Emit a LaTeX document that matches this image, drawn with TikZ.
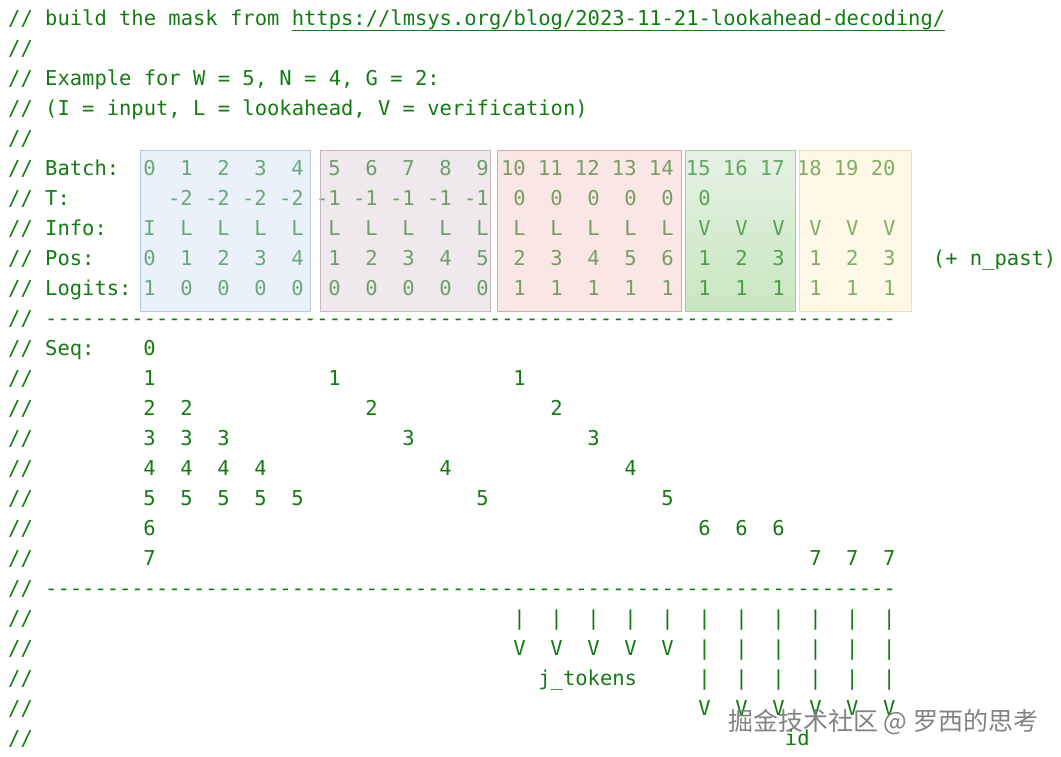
\documentclass[tikz,border=0pt]{standalone}
\usepackage{fontspec}
\setmonofont{DejaVu Sans Mono}[WordSpace={1,0,0},PunctuationSpace=WordSpace]
\newfontfamily\cjkfont{Noto Sans CJK SC}
\frenchspacing
\newcommand\codefont{\ttfamily\fontsize{20.48}{30}\selectfont}
\definecolor{codegreen}{RGB}{20,122,20}
\definecolor{boxblue}{RGB}{208,224,244}
\definecolor{blueline}{RGB}{184,200,222}
\definecolor{boxpurple}{RGB}{219,204,213}
\definecolor{purpleline}{RGB}{200,184,196}
\definecolor{boxred}{RGB}{246,199,199}
\definecolor{redline}{RGB}{214,170,172}
\definecolor{boxgreentop}{RGB}{200,226,195}
\definecolor{boxgreenbot}{RGB}{133,200,115}
\definecolor{greenline}{RGB}{168,200,164}
\definecolor{boxyellow}{RGB}{255,239,199}
\definecolor{yellowline}{RGB}{238,222,178}
\definecolor{markgray}{RGB}{130,130,130}

\begin{document}
\begin{tikzpicture}[x=1pt,y=-1pt,
  every node/.style={inner sep=0pt,text=codegreen,font=\codefont},
  lbl/.style={anchor=base west},
  tok/.style={anchor=base east},
  hl/.style={fill opacity=.45}]
\useasboundingbox (0,0) rectangle (1061,756);

\begin{scope}[shift={(8,25.5)},x=12.33pt,y=-30pt]
\node[lbl] (head) at (0,0) {// build the mask from};
\node[lbl] (url) at (23,0) {https://lmsys.org/blog/2023-11-21-lookahead-decoding/};
\draw[codegreen,line width=1.6pt] ([yshift=-5pt]url.base west) -- ([yshift=-5pt]url.base east);
\foreach \i in {1,4,12,13,...,18,20,21,...,24}
  \node[lbl] (cm\i) at (0,\i) {//};
\node[lbl] (ex) at (0,2) {// Example for W = 5, N = 4, G = 2:};
\node[lbl] (key) at (0,3) {// (I = input, L = lookahead, V = verification)};
\node[lbl] (batch) at (0,5) {// Batch:};
\node[lbl] (tee) at (0,6) {// T:};
\node[lbl] (info) at (0,7) {// Info:};
\node[lbl] (pos) at (0,8) {// Pos:};
\node[lbl] (logits) at (0,9) {// Logits:};
\node[lbl] (seq) at (0,11) {// Seq:};
\node[lbl] (rule1) at (0,10) {// ---------------------------------------------------------------------};
\node[lbl] (rule2) at (0,19) {// ---------------------------------------------------------------------};

\foreach \n in {0,...,20}
  \node[tok] (b\n) at ({12+3*\n},5) {\n};
\foreach \v [count=\n] in {-2,-2,-2,-2,-1,-1,-1,-1,-1,0,0,0,0,0,0}
  \node[tok] (t\n) at ({12+3*\n},6) {\v};
\foreach \v [count=\n from 0] in {I,L,L,L,L,L,L,L,L,L,L,L,L,L,L,V,V,V,V,V,V}
  \node[tok] (i\n) at ({12+3*\n},7) {\v};
\foreach \v [count=\n from 0] in {0,1,2,3,4,1,2,3,4,5,2,3,4,5,6,1,2,3,1,2,3}
  \node[tok] (p\n) at ({12+3*\n},8) {\v};
\foreach \v [count=\n from 0] in {1,0,0,0,0,0,0,0,0,0,1,1,1,1,1,1,1,1,1,1,1}
  \node[tok] (g\n) at ({12+3*\n},9) {\v};
\node[lbl] (npast) at (75,8) {(+ n\_past)};

\node[tok] (s0) at (12,11) {0};
\foreach \k in {1,...,5} {
  \foreach \j in {1,...,\k}
    \node[tok] (s\k-\j) at ({9+3*\j},11+\k) {\k};
  \node[tok] (s\k-b) at ({24+3*\k},11+\k) {\k};
  \node[tok] (s\k-c) at ({39+3*\k},11+\k) {\k};
}
\node[tok] (s6) at (12,17) {6};
\node[tok] (s7) at (12,18) {7};
\foreach \j in {0,1,2} {
  \node[tok] (s6-\j) at ({57+3*\j},17) {6};
  \node[tok] (s7-\j) at ({66+3*\j},18) {7};
}

\foreach \c in {41,44,...,71}
  \node[tok] (bar\c) at (\c+1,20) {|};
\foreach \c in {41,44,...,53}
  \node[tok] (arr\c) at (\c+1,21) {V};
\foreach \c in {56,59,...,71} {
  \node[tok] (bara\c) at (\c+1,21) {|};
  \node[tok] (barb\c) at (\c+1,22) {|};
  \node[tok] (arrb\c) at (\c+1,23) {V};
}
\node[lbl] (jtok) at (43,22) {j\_tokens};
\node[lbl] (id) at (63,24) {id};
\end{scope}

\fill[boxblue,hl] (140,150) rectangle (310,311);
\draw[blueline] (140,150) rectangle (310,311);
\fill[boxpurple,hl] (320,150) rectangle (490,311);
\draw[purpleline] (320,150) rectangle (490,311);
\fill[boxred,hl] (497,150) rectangle (681,311);
\draw[redline] (497,150) rectangle (681,311);
\shade[top color=boxgreentop,bottom color=boxgreenbot,hl] (685,150) rectangle (795,311);
\draw[greenline] (685,150) rectangle (795,311);
\fill[boxyellow,hl] (799,150) rectangle (911,311);
\draw[yellowline] (799,150) rectangle (911,311);

\node[anchor=base west,text=markgray,font=\cjkfont\fontsize{25}{25}\selectfont] (mark) at (728,730) {掘金技术社区 @ 罗西的思考};
\end{tikzpicture}
\end{document}
